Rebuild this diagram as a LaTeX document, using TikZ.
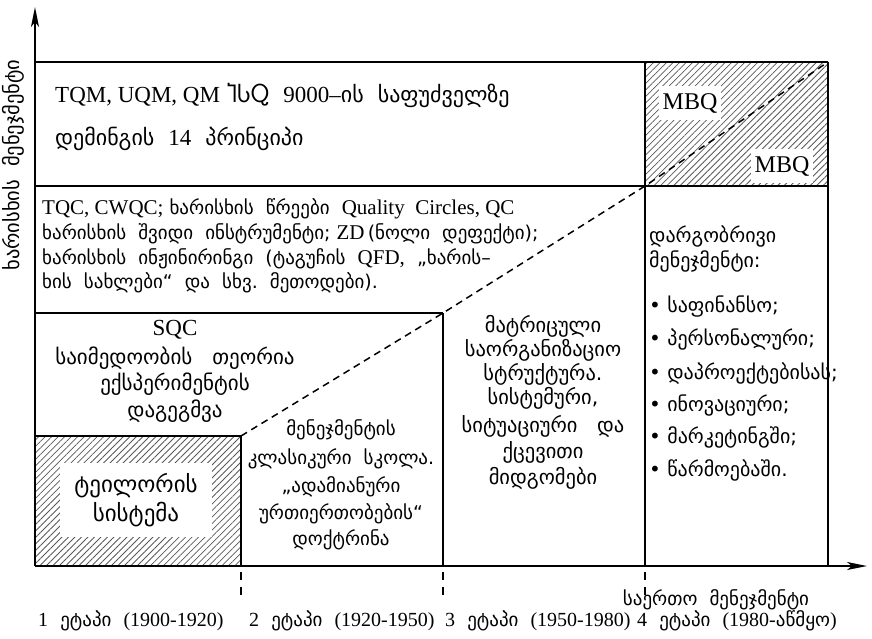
\documentclass[tikz,border=0pt]{standalone}
\usepackage{fontspec}
\setmainfont{Liberation Serif}
\newfontfamily\geo{DejaVu Sans}
\usetikzlibrary{arrows.meta,patterns.meta}
\newcommand\fs[1]{\fontsize{#1}{#1}\selectfont}
\newcommand\la[1]{{\rmfamily #1}}
\begin{document}
\begin{tikzpicture}[x=1pt,y=-1pt,
  box/.style={line width=1.6pt},
  axisline/.style={line width=1.6pt,-{Stealth[length=20pt,width=8pt,inset=5pt]}},
  hatch/.style={pattern={Lines[angle=45,distance=4.6pt,line width=0.8pt]},pattern color=black!65},
  diag/.style={line width=1.5pt,dash pattern=on 7pt off 5pt},
  tick/.style={line width=1.3pt,dash pattern=on 8pt off 7pt},
  ln/.style={inner sep=0pt,text height=.55em,text depth=0pt},
  gA/.style={ln,font=\geo\fs{22}},
  gB/.style={ln,font=\geo\fs{19}},
  gC/.style={ln,font=\geo\fs{19}},
  gD/.style={ln,font=\geo\fs{20.5}},
  gE/.style={ln,font=\geo\fs{20}},
  whitebox/.style={fill=white,inner sep=0pt}]
\useasboundingbox (0,0) rectangle (872,638);
% hatched areas
\fill[hatch] (645,62) rectangle (828,186);
\fill[hatch] (35,436) rectangle (241,566);
% grid coordinates
\coordinate (O) at (35,566);
\coordinate (ytip) at (35,7);
\coordinate (xtip) at (867,566);
\coordinate (tl) at (35,62);
\coordinate (tr) at (828,62);
\coordinate (ml) at (35,186);
\coordinate (mc) at (645,186);
\coordinate (mr) at (828,186);
\coordinate (ll) at (35,313);
\coordinate (lc) at (443,313);
\coordinate (tayl) at (35,436);
\coordinate (tayr) at (241,436);
\coordinate (b1) at (241,566);
\coordinate (b2) at (443,566);
\coordinate (b3) at (645,566);
\coordinate (b4) at (828,566);
\coordinate (t1a) at (241,572);
\coordinate (t1b) at (241,598);
\coordinate (t2a) at (443,572);
\coordinate (t2b) at (443,598);
\coordinate (t3a) at (645,572);
\coordinate (t3b) at (645,598);
% lines
\draw[box] (tl) -- (tr);
\draw[box] (ml) -- (mr);
\draw[box] (ll) -- (lc);
\draw[box] (tayl) -- (tayr) -- (b1);
\draw[box] (lc) -- (b2);
\draw[box] (645,62) -- (b3);
\draw[box] (tr) -- (b4);
\draw[diag] (tayr) -- (lc) -- (mc) -- (tr);
\draw[tick] (t1a) -- (t1b);
\draw[tick] (t2a) -- (t2b);
\draw[tick] (t3a) -- (t3b);
\draw[axisline] (O) -- (ytip);
\draw[axisline] (O) -- (xtip);
% MBQ labels
\node[whitebox,minimum width=62pt,minimum height=34pt,font=\fs{24}] (mbq1) at (690,103) {MBQ};
\node[whitebox,minimum width=62pt,minimum height=34pt,font=\fs{24}] (mbq2) at (782,166) {MBQ};
% Taylor
\node[whitebox,minimum width=152pt,minimum height=74pt,align=center,font=\geo\fontsize{23}{29}\selectfont] (taylor) at (136,500) {ტეილორის\\სისტემა};
% region 1
\node[gA,anchor=west] (r1a) at (55,100) {\la{\fs{23}TQM, UQM, QM} ႨႱႭ\ \ \la{\fs{23}9000–}ის\ \ საფუძველზე};
\node[gA,anchor=west] (r1b) at (55,143) {დემინგის\ \ \la{\fs{23}14}\ \ პრინციპი};
% region 2
\node[gB,anchor=west] (r2a) at (42,212) {\la{\fs{21}TQC, CWQC;} ხარისხის\ \ წრეები\ \ \la{\fs{21}Quality\ \ Circles, QC}};
\node[gB,anchor=west] (r2b) at (42,237) {ხარისხის\ \ შვიდი\ \ ინსტრუმენტი; \la{\fs{21}ZD}\,(ნოლი\ \ დეფექტი);};
\node[gB,anchor=west] (r2c) at (42,262) {ხარისხის\ \ ინჟინირინგი\ \ (ტაგუჩის\ \ \la{\fs{21}QFD,}\ \ „ხარის–};
\node[gB,anchor=west] (r2d) at (42,286) {ხის\ \ სახლები“\ \ და\ \ სხვ.\ \ მეთოდები).};
% SQC block
\node[ln,font=\fs{23}] (sqc1) at (175,333) {SQC};
\node[gE,font=\geo\fs{21}] (sqc2) at (175,362) {საიმედოობის\ \ \ თეორია};
\node[gE,font=\geo\fs{21}] (sqc3) at (175,388) {ექსპერიმენტის};
\node[gE,font=\geo\fs{21}] (sqc4) at (175,415) {დაგეგმვა};
% column 2
\node[gC] (c2a) at (341,433) {მენეჯმენტის};
\node[gC] (c2b) at (341,462) {კლასიკური\ \ სკოლა.};
\node[gC] (c2c) at (341,490) {„ადამიანური};
\node[gC] (c2d) at (341,517) {ურთიერთობების“};
\node[gC] (c2e) at (341,543) {დოქტრინა};
% column 3
\node[gD] (c3a) at (543,330) {მატრიცული};
\node[gD] (c3b) at (543,354) {საორგანიზაციო};
\node[gD] (c3c) at (543,378) {სტრუქტურა.};
\node[gD] (c3d) at (543,402) {სისტემური,};
\node[gD] (c3e) at (543,430) {სიტუაციური\ \ \ და};
\node[gD] (c3f) at (543,456) {ქცევითი};
\node[gD] (c3g) at (543,482) {მიდგომები};
% column 4
\node[gE,anchor=west] (c4a) at (649,240) {დარგობრივი};
\node[gE,anchor=west] (c4b) at (649,265) {მენეჯმენტი:};
\node[gE,anchor=west] (c4c) at (649,310) {•\ საფინანსო;};
\node[gE,anchor=west] (c4d) at (649,343) {•\ პერსონალური;};
\node[gE,anchor=west] (c4e) at (649,377) {•\ დაპროექტებისას;};
\node[gE,anchor=west] (c4f) at (649,409) {•\ ინოვაციური;};
\node[gE,anchor=west] (c4g) at (649,441) {•\ მარკეტინგში;};
\node[gE,anchor=west] (c4h) at (649,474) {•\ წარმოებაში.};
% axis labels
\node[gC] (xlab) at (716,603) {საერთო\ \ მენეჯმენტი};
\node[gD,rotate=90] (ylab) at (17,165) {ხარისხის\ \ მენეჯმენტი};
\node[gC,anchor=west] (st1) at (38,624) {\la{\fs{20}1}\ \ ეტაპი\ \ \la{\fs{20}(1900-1920)}};
\node[gC,anchor=west] (st2) at (249,624) {\la{\fs{20}2}\ \ ეტაპი\ \ \la{\fs{20}(1920-1950)}};
\node[gC,anchor=west] (st3) at (445,624) {\la{\fs{20}3}\ \ ეტაპი\ \ \la{\fs{20}(1950-1980)}};
\node[gC,anchor=west] (st4) at (637,624) {\la{\fs{20}4}\ \ ეტაპი\ \ \la{\fs{20}(1980-}აწმყო\la{\fs{20})}};
\end{tikzpicture}
\end{document}
